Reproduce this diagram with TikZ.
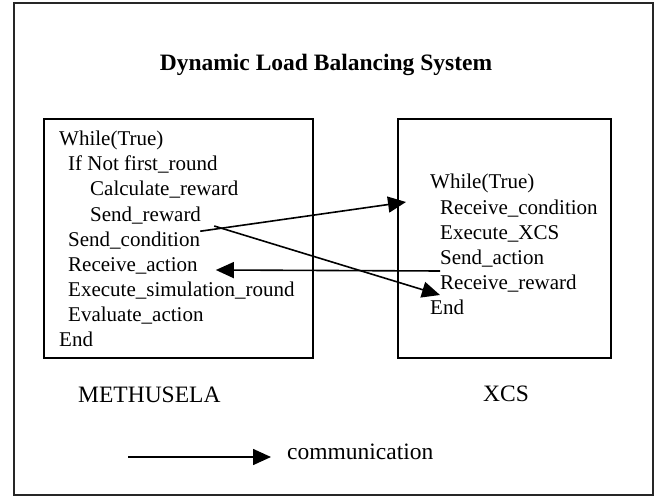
\documentclass[tikz,border=0pt]{standalone}
\usepackage{fontspec}
\setmainfont{Liberation Serif}
\usetikzlibrary{arrows.meta}
\begin{document}
\begin{tikzpicture}[x=1pt,y=-1pt,
  code/.style={anchor=base west,inner sep=0pt,font=\fontsize{21}{25}\selectfont},
  lbl/.style={anchor=base west,inner sep=0pt,font=\fontsize{23.5}{28}\selectfont},
  frame/.style={draw,line width=1.6pt},
  comm/.style={line width=1.6pt,-{Triangle[length=18pt,width=16pt]}}
]
\useasboundingbox (0,0) rectangle (658,497);
% outer frame
\draw[line width=2.6pt,draw=black!85] (14,3) rectangle (653,495);
\node[inner sep=0pt,font=\fontsize{23.5}{28}\selectfont\bfseries] (title) at (326,65) {Dynamic Load Balancing System};
% boxes
\node[frame,anchor=north west,inner sep=0pt,minimum width=269pt,minimum height=239pt] (lbox) at (43,118) {};
\node[frame,anchor=north west,inner sep=0pt,minimum width=213pt,minimum height=239pt] (rbox) at (397,118) {};
% left code
\node[code] (l1) at (59,146) {While(True)};
\node[code] (l2) at (68,171) {If Not first\_round};
\node[code] (l3) at (90,196) {Calculate\_reward};
\node[code] (sr) at (90,221) {Send\_reward};
\node[code] (sc) at (68,246) {Send\_condition};
\node[code] (ra) at (68,271) {Receive\_action};
\node[code] (l7) at (68,296) {Execute\_simulation\_round};
\node[code] (l8) at (68,321) {Evaluate\_action};
\node[code] (l9) at (59,346) {End};
% right code
\node[code] (r1) at (430,189) {While(True)};
\node[code] (rc) at (440,214) {Receive\_condition};
\node[code] (r3) at (440,239) {Execute\_XCS};
\node[code] (sa) at (440,264) {Send\_action};
\node[code] (rr) at (440,289) {Receive\_reward};
\node[code] (r6) at (430,314) {End};
% arrows
\coordinate (rcin) at (406,202);
\draw[comm] (sc.north east) -- (rcin);
\draw[comm] ([xshift=13pt,yshift=-5pt]sr.base east) -- ([yshift=-6pt]rr.base west);
\draw[comm] ([yshift=-7pt]sa.base west) -- ([xshift=18pt,yshift=1pt]ra.base east);
% labels
\node[lbl] (meth) at (78,402) {METHUSELA};
\node[lbl] (xcs) at (483,401) {XCS};
% legend
\coordinate (lega) at (128,457);
\coordinate (legb) at (271,457);
\draw[comm] (lega) -- (legb);
\node[lbl] (commlbl) at (287,459) {communication};
\end{tikzpicture}
\end{document}
